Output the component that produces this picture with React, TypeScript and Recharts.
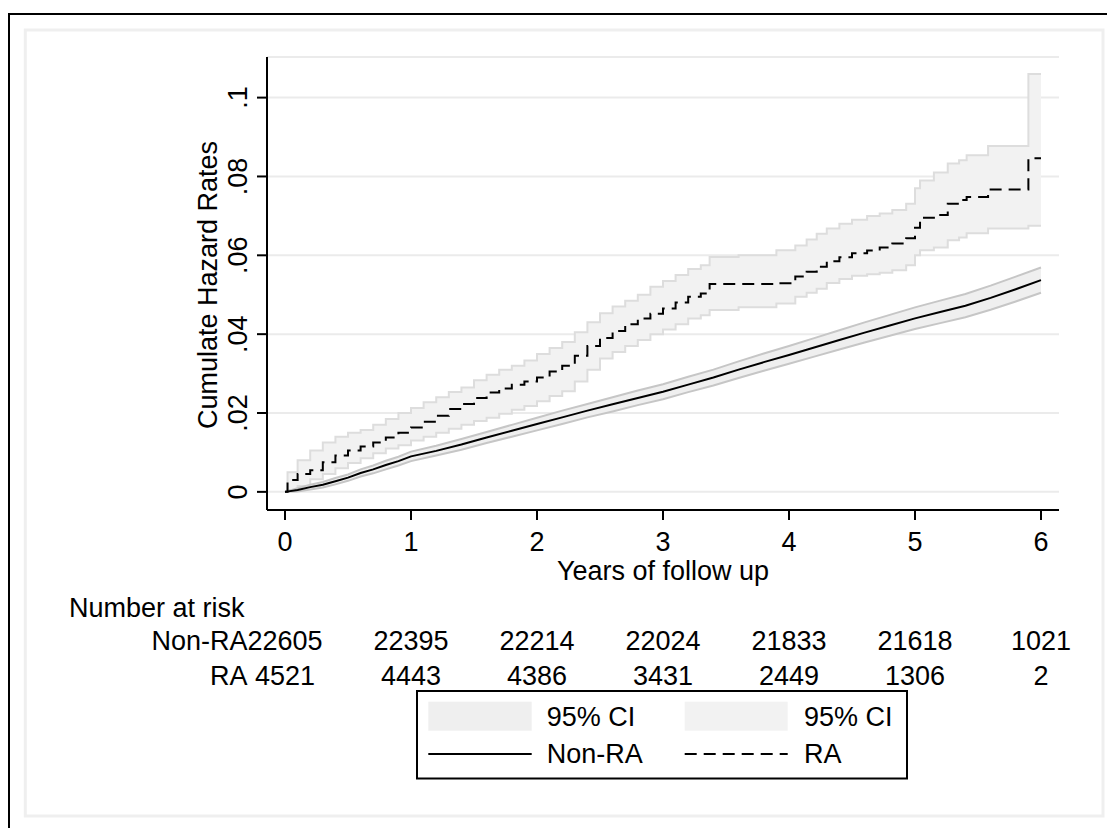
import React from "react";
import { ComposedChart, Area, Line, XAxis, YAxis, CartesianGrid } from "recharts";

// axis ticks and the number-at-risk table
const xTicks = [0, 1, 2, 3, 4, 5, 6];
const yTicks = [0, 0.02, 0.04, 0.06, 0.08, 0.1];
const yTickLabels = ["0", ".02", ".04", ".06", ".08", ".1"];
const riskNonRA = [22605, 22395, 22214, 22024, 21833, 21618, 1021];
const riskRA = [4521, 4443, 4386, 3431, 2449, 1306, 2];

// RA: cumulative hazard and 95% CI
const raTime = [0, 0.02, 0.1, 0.2, 0.3, 0.4, 0.5, 0.6, 0.7, 0.8, 0.9, 1.0, 1.1, 1.2, 1.3, 1.4, 1.5, 1.6, 1.7, 1.8, 1.9, 2.0, 2.1, 2.2, 2.3, 2.4, 2.5, 2.6, 2.7, 2.8, 2.9, 3.0, 3.1, 3.2, 3.3, 3.37, 3.6, 3.9, 4.05, 4.14, 4.22, 4.3, 4.4, 4.5, 4.62, 4.72, 4.82, 4.93, 5.0, 5.04, 5.15, 5.26, 5.35, 5.41, 5.58, 5.9, 6.0];
const raCum = [0, 0.003, 0.0045, 0.0055, 0.0075, 0.0092, 0.0105, 0.0115, 0.0125, 0.0138, 0.015, 0.0163, 0.0178, 0.0193, 0.021, 0.0223, 0.0238, 0.0252, 0.0262, 0.0272, 0.028, 0.029, 0.0305, 0.032, 0.0345, 0.037, 0.039, 0.0408, 0.0425, 0.044, 0.0452, 0.0465, 0.048, 0.0495, 0.0503, 0.0527, 0.0527, 0.0529, 0.0546, 0.0558, 0.0571, 0.0585, 0.0595, 0.0605, 0.0612, 0.062, 0.063, 0.0643, 0.067, 0.0695, 0.0702, 0.0731, 0.074, 0.0748, 0.0767, 0.0846, 0.0846];
const raLo = [0, 0.0005, 0.0015, 0.0032, 0.0045, 0.006, 0.0073, 0.0085, 0.0098, 0.011, 0.0118, 0.013, 0.014, 0.015, 0.016, 0.017, 0.018, 0.0188, 0.0198, 0.0208, 0.0218, 0.023, 0.0243, 0.0255, 0.028, 0.031, 0.0338, 0.0355, 0.037, 0.0385, 0.04, 0.0412, 0.0425, 0.044, 0.0448, 0.0461, 0.0468, 0.0478, 0.0495, 0.0505, 0.0515, 0.053, 0.054, 0.0548, 0.0552, 0.0556, 0.0562, 0.0575, 0.06, 0.0613, 0.062, 0.0638, 0.0645, 0.0656, 0.0668, 0.0675, 0.0675];
const raHi = [0, 0.005, 0.008, 0.0105, 0.0125, 0.014, 0.015, 0.0157, 0.017, 0.0185, 0.02, 0.0213, 0.0227, 0.024, 0.0253, 0.0265, 0.0283, 0.0297, 0.031, 0.032, 0.0333, 0.035, 0.0365, 0.038, 0.0405, 0.043, 0.0453, 0.047, 0.0485, 0.05, 0.052, 0.0535, 0.055, 0.0565, 0.0575, 0.0596, 0.06, 0.0613, 0.0625, 0.064, 0.0655, 0.0668, 0.068, 0.069, 0.07, 0.0706, 0.0715, 0.0731, 0.077, 0.079, 0.081, 0.0833, 0.0841, 0.0854, 0.0877, 0.106, 0.106];

// Non-RA (many tiny steps, so it reads as a smooth line)
const nonRaTime = [0, 0.1, 0.2, 0.3, 0.4, 0.5, 0.6, 0.7, 0.8, 0.9, 1.0, 1.2, 1.4, 1.6, 1.8, 2.0, 2.2, 2.4, 2.6, 2.8, 3.0, 3.2, 3.4, 3.6, 3.8, 4.0, 4.2, 4.4, 4.6, 4.8, 5.0, 5.2, 5.4, 5.6, 5.8, 6.0];
const nonRaCum = [0, 0.0005, 0.0012, 0.0018, 0.0027, 0.0036, 0.0048, 0.0057, 0.0068, 0.0078, 0.009, 0.0104, 0.012, 0.0138, 0.0155, 0.0172, 0.0189, 0.0206, 0.0222, 0.0238, 0.0254, 0.0272, 0.029, 0.031, 0.0329, 0.0347, 0.0366, 0.0385, 0.0404, 0.0422, 0.044, 0.0456, 0.0472, 0.0492, 0.0514, 0.0537];
const nonRaLo = [0, 0.0001, 0.0006, 0.0011, 0.0019, 0.0028, 0.0039, 0.0047, 0.0057, 0.0067, 0.0078, 0.0092, 0.0107, 0.0124, 0.014, 0.0156, 0.0172, 0.0189, 0.0204, 0.022, 0.0235, 0.0253, 0.027, 0.0289, 0.0307, 0.0325, 0.0343, 0.0361, 0.0379, 0.0396, 0.0413, 0.0428, 0.0443, 0.0462, 0.0483, 0.0505];
const nonRaHi = [0, 0.0009, 0.0018, 0.0025, 0.0035, 0.0044, 0.0057, 0.0067, 0.0079, 0.0089, 0.0102, 0.0117, 0.0134, 0.0152, 0.017, 0.0188, 0.0206, 0.0223, 0.024, 0.0257, 0.0273, 0.0292, 0.031, 0.0331, 0.0351, 0.037, 0.039, 0.041, 0.043, 0.0449, 0.0468, 0.0485, 0.0502, 0.0523, 0.0546, 0.0569];

const toRows = (t: number[], c: number[], lo: number[], hi: number[]) =>
  t.map((v, i) => ({ t: v, cum: c[i], lo: lo[i], hi: hi[i], band: [lo[i], hi[i]] }));

const raRows = toRows(raTime, raCum, raLo, raHi);
const nonRaRows = toRows(nonRaTime, nonRaCum, nonRaLo, nonRaHi);

const FONT = "'Liberation Sans', Arial, Helvetica, sans-serif";
const FS = 27;
const DASH = "12 7";

function XTick(props: any) {
  const { x, y, payload, index } = props;
  const i = index ?? xTicks.indexOf(payload.value);
  return (
    <g fontFamily={FONT} fontSize={FS} fill="#000">
      <text x={x} y={y + 31} textAnchor="middle">{payload.value}</text>
      <text x={x} y={y + 130} textAnchor="middle">{riskNonRA[i]}</text>
      <text x={x} y={y + 164.5} textAnchor="middle">{riskRA[i]}</text>
    </g>
  );
}

function YTick(props: any) {
  const { x, y, payload } = props;
  const i = yTicks.findIndex((v) => Math.abs(v - payload.value) < 1e-9);
  return (
    <text
      x={x}
      y={y}
      transform={`rotate(-90 ${x} ${y})`}
      textAnchor="middle"
      fontFamily={FONT}
      fontSize={FS}
      fill="#000"
    >
      {yTickLabels[i]}
    </text>
  );
}

export default function App() {
  return (
    <div style={{ position: "absolute", left: 0, top: 0, width: 1107, height: 828, background: "#fff", overflow: "hidden" }}>
      <div style={{ position: "absolute", left: 0, top: 0 }}>
        <ComposedChart width={1107} height={828} margin={{ top: 57, right: 48, bottom: 288, left: 207 }}>
          <CartesianGrid horizontal vertical={false} stroke="#ebebeb" strokeWidth={2} />
          <XAxis
            dataKey="t"
            type="number"
            domain={[-0.143, 6.143]}
            ticks={xTicks}
            interval={0}
            allowDataOverflow
            height={30}
            axisLine={{ stroke: "#000", strokeWidth: 2 }}
            tickLine={{ stroke: "#000", strokeWidth: 2 }}
            tickSize={10}
            tickMargin={0}
            tick={<XTick />}
          />
          <YAxis
            type="number"
            domain={[-0.0046, 0.1103]}
            ticks={yTicks}
            interval={0}
            allowDataOverflow
            width={60}
            axisLine={{ stroke: "#000", strokeWidth: 2 }}
            tickLine={{ stroke: "#000", strokeWidth: 2 }}
            tickSize={10}
            tickMargin={10}
            tick={<YTick />}
          />
          <Area data={raRows} dataKey="band" type="stepAfter" fill="#f2f2f2" fillOpacity={1} stroke="none" isAnimationActive={false} />
          <Area data={nonRaRows} dataKey="band" type="linear" fill="#efefef" fillOpacity={1} stroke="none" isAnimationActive={false} />
          <Line data={raRows} dataKey="lo" type="stepAfter" stroke="#dddddd" strokeWidth={2} dot={false} isAnimationActive={false} />
          <Line data={raRows} dataKey="hi" type="stepAfter" stroke="#dddddd" strokeWidth={2} dot={false} isAnimationActive={false} />
          <Line data={nonRaRows} dataKey="lo" type="linear" stroke="#c6c6c6" strokeWidth={2} dot={false} isAnimationActive={false} />
          <Line data={nonRaRows} dataKey="hi" type="linear" stroke="#c6c6c6" strokeWidth={2} dot={false} isAnimationActive={false} />
          <Line data={nonRaRows} dataKey="cum" type="linear" stroke="#000" strokeWidth={2} dot={false} isAnimationActive={false} />
          <Line data={raRows} dataKey="cum" type="stepAfter" stroke="#000" strokeWidth={2} strokeDasharray={DASH} dot={false} isAnimationActive={false} />
        </ComposedChart>
      </div>
      <svg
        width={1107}
        height={828}
        style={{ position: "absolute", left: 0, top: 0, pointerEvents: "none" }}
        fontFamily={FONT}
        fontSize={FS}
      >
        {/* outer frame (only top and left visible) and graph region */}
        <path d="M9 828 V14 H1107" fill="none" stroke="#000" strokeWidth={2} />
        <rect x={25.3} y={30} width={1077.7} height={786} fill="none" stroke="#efefef" strokeWidth={3} />

        <text x={217} y={285} transform="rotate(-90 217 285)" textAnchor="middle">Cumulate Hazard Rates</text>
        <text x={663} y={580} textAnchor="middle">Years of follow up</text>

        <text x={69} y={617}>Number at risk</text>
        <text x={247.5} y={650} textAnchor="end">Non-RA</text>
        <text x={247.5} y={684.5} textAnchor="end">RA</text>

        {/* legend */}
        <rect x={417} y={691} width={490} height={87.5} fill="#fff" stroke="#000" strokeWidth={2} />
        <rect x={428.3} y={701.7} width={103.4} height={29} fill="#efefef" />
        <rect x={684.7} y={701.7} width={103} height={29} fill="#f2f2f2" />
        <text x={546.7} y={726}>95% CI</text>
        <text x={804} y={726}>95% CI</text>
        <line x1={428.3} x2={531.7} y1={754} y2={754} stroke="#000" strokeWidth={2} />
        <line x1={684.7} x2={787.7} y1={754} y2={754} stroke="#000" strokeWidth={2} strokeDasharray={DASH} />
        <text x={546.7} y={763}>Non-RA</text>
        <text x={804} y={763}>RA</text>
      </svg>
    </div>
  );
}
